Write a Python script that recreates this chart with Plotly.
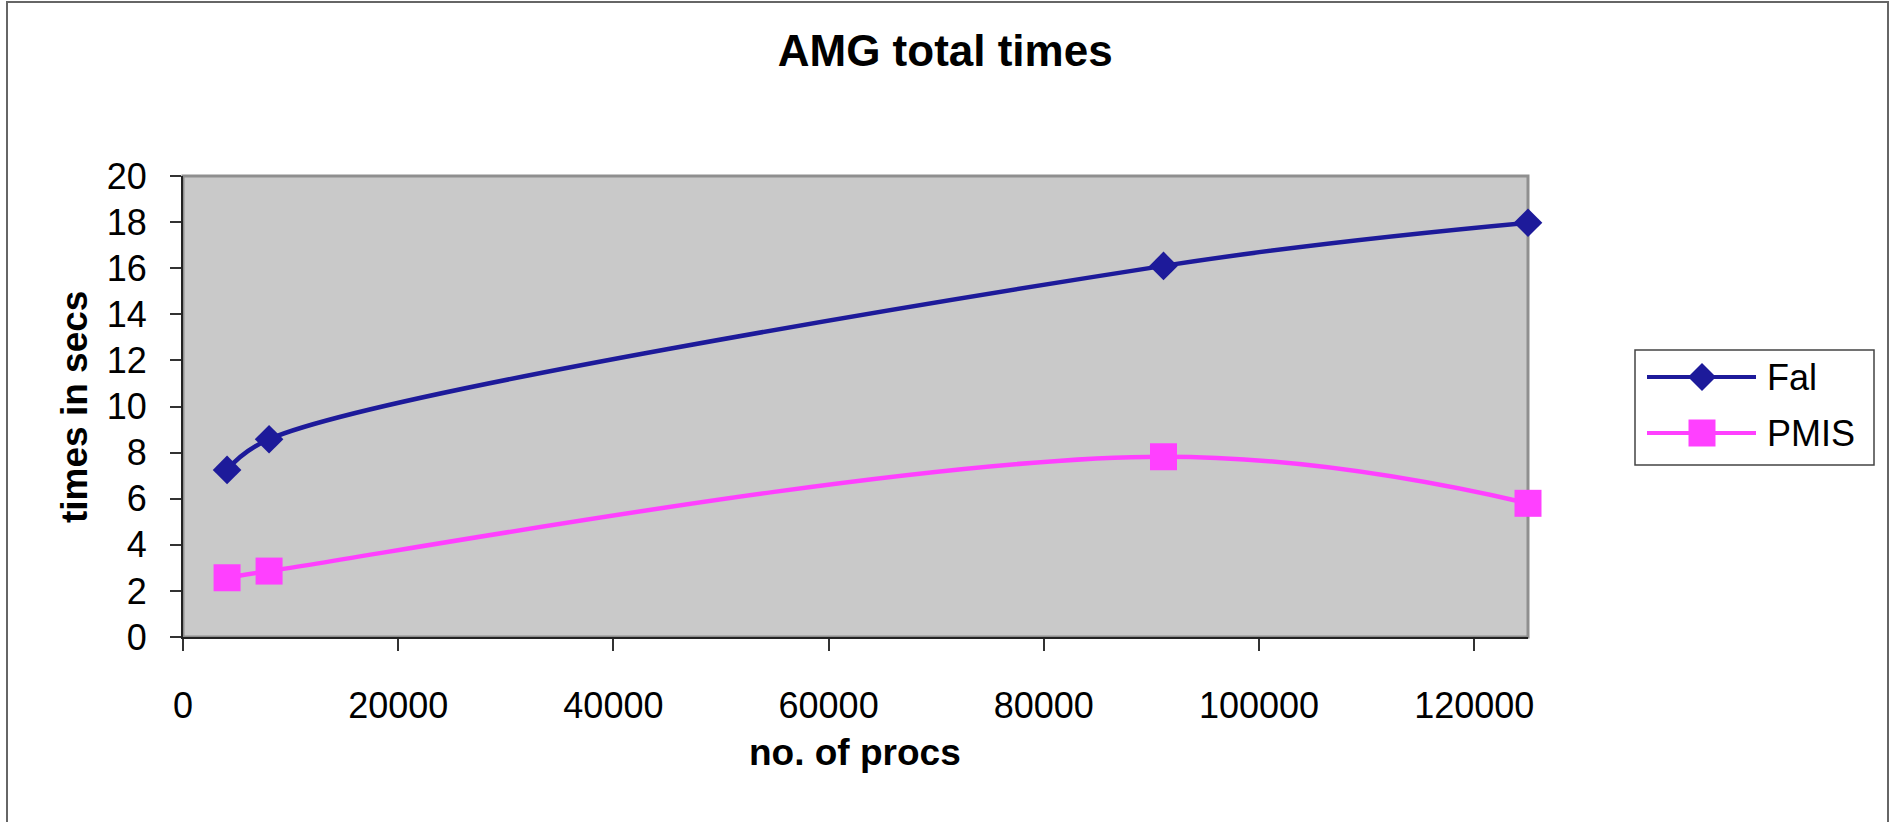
import plotly.graph_objects as go

# Data
procs = [4096, 8000, 91125, 125000]
fal_times = [7.25, 8.58, 16.1, 17.97]
pmis_times = [2.57, 2.86, 7.82, 5.80]
series_names = ["Fal", "PMIS"]

W, H = 1898, 822
L, R, T, B = 183, 1528, 176, 637  # plot area in pixels

FONT = "Liberation Sans, Arial, sans-serif"
NAVY = "#1d1a9a"
MAGENTA = "#ff40ff"


def px_x(px):
    return (px - L) / (R - L)


def px_y(py):
    return (B - py) / (B - T)


fig = go.Figure()
fig.add_trace(go.Scatter(
    x=procs, y=fal_times, name=series_names[0], mode="lines+markers",
    line=dict(color=NAVY, width=4.5, shape="spline", smoothing=1),
    marker=dict(symbol="diamond", size=22, color=NAVY, line=dict(width=0)),
    cliponaxis=False, showlegend=False,
))
fig.add_trace(go.Scatter(
    x=procs, y=pmis_times, name=series_names[1], mode="lines+markers",
    line=dict(color=MAGENTA, width=4.5, shape="spline", smoothing=1.1),
    marker=dict(symbol="square", size=27, color=MAGENTA, line=dict(width=0)),
    cliponaxis=False, showlegend=False,
))

shapes = []
# outer chart frame
shapes.append(dict(type="rect", xref="paper", yref="paper",
                   x0=px_x(7), x1=px_x(1888), y0=px_y(900), y1=px_y(2),
                   line=dict(color="#666666", width=2), layer="below"))
# plot area frame (top/right in grey)
shapes.append(dict(type="rect", xref="paper", yref="paper",
                   x0=0, x1=1, y0=0, y1=1,
                   line=dict(color="#8f8f8f", width=3), layer="below"))

# legend box
lg_x0, lg_x1, lg_y0, lg_y1 = 1635, 1874, 350, 465
shapes.append(dict(type="rect", xref="paper", yref="paper",
                   x0=px_x(lg_x0), x1=px_x(lg_x1), y0=px_y(lg_y1), y1=px_y(lg_y0),
                   line=dict(color="#444444", width=1.5), fillcolor="white", layer="below"))

annotations = []
legend_rows = [(series_names[0], NAVY, "diamond", 377),
               (series_names[1], MAGENTA, "square", 433)]
for name, color, sym, yy in legend_rows:
    shapes.append(dict(type="line", xref="paper", yref="paper",
                       x0=px_x(1647), x1=px_x(1756), y0=px_y(yy), y1=px_y(yy),
                       line=dict(color=color, width=4), layer="above"))
    cx = 1702
    if sym == "diamond":
        r = 14
        path = "M {} {} L {} {} L {} {} L {} {} Z".format(
            px_x(cx - r), px_y(yy), px_x(cx), px_y(yy - r),
            px_x(cx + r), px_y(yy), px_x(cx), px_y(yy + r))
        shapes.append(dict(type="path", xref="paper", yref="paper", path=path,
                           fillcolor=color, line=dict(width=0), layer="above"))
    else:
        r = 13.5
        shapes.append(dict(type="rect", xref="paper", yref="paper",
                           x0=px_x(cx - r), x1=px_x(cx + r),
                           y0=px_y(yy + r), y1=px_y(yy - r),
                           fillcolor=color, line=dict(width=0), layer="above"))
    annotations.append(dict(text=name, xref="paper", yref="paper",
                            x=px_x(1765), y=px_y(yy), xanchor="left", yanchor="middle",
                            showarrow=False, font=dict(family=FONT, size=36, color="black")))

# axis titles
annotations.append(dict(text="<b>no. of procs</b>", xref="paper", yref="paper",
                        x=px_x(855), y=px_y(752), xanchor="center", yanchor="middle",
                        showarrow=False, font=dict(family=FONT, size=37, color="black")))
annotations.append(dict(text="<b>times in secs</b>", xref="paper", yref="paper",
                        x=px_x(74), y=px_y(407), xanchor="center", yanchor="middle",
                        textangle=-90, showarrow=False,
                        font=dict(family=FONT, size=37, color="black")))

fig.update_layout(
    width=W, height=H,
    margin=dict(l=L, r=W - R, t=T, b=H - B, pad=0),
    paper_bgcolor="white",
    plot_bgcolor="#c9c9c9",
    title=dict(text="<b>AMG total times</b>", x=0.498, xref="container", xanchor="center",
               y=1 - 51 / H, yref="container", yanchor="middle",
               font=dict(family=FONT, size=44, color="black")),
    shapes=shapes,
    annotations=annotations,
    showlegend=False,
)

fig.update_xaxes(
    range=[0, 125000], tickmode="array",
    tickvals=[0, 20000, 40000, 60000, 80000, 100000, 120000],
    ticktext=["0", "20000", "40000", "60000", "80000", "100000", "120000"],
    showgrid=False, zeroline=False,
    showline=True, linecolor="#222222", linewidth=2,
    ticks="outside", ticklen=12, tickwidth=1.5, tickcolor="#333333",
    ticklabelstandoff=24,
    tickfont=dict(family=FONT, size=36, color="black"),
)
fig.update_yaxes(
    range=[0, 20], tickmode="linear", tick0=0, dtick=2,
    showgrid=False, zeroline=False,
    showline=True, linecolor="#222222", linewidth=2,
    ticks="outside", ticklen=11, tickwidth=1.5, tickcolor="#333333",
    ticklabelstandoff=16,
    tickfont=dict(family=FONT, size=36, color="black"),
)

fig.write_html("out.html")
